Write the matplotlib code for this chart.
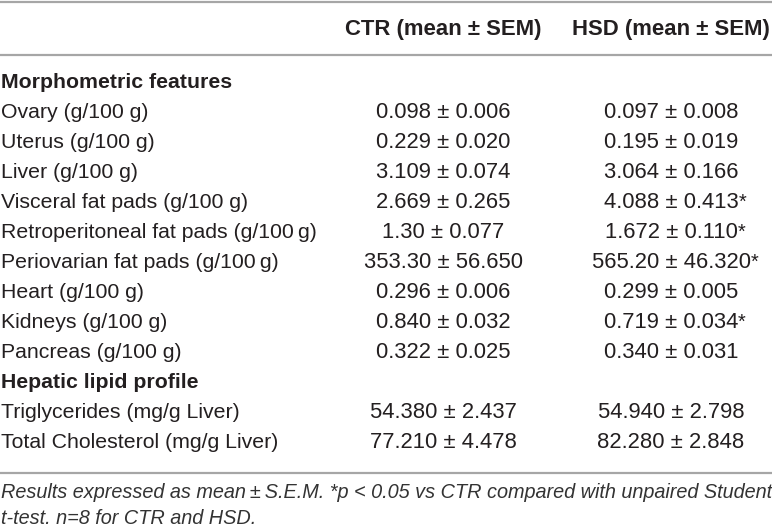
import matplotlib.pyplot as plt

plt.rcParams['font.family'] = ['Liberation Sans', 'DejaVu Sans']

columns = ["CTR (mean ± SEM)", "HSD (mean ± SEM)"]

morpho_title = "Morphometric features"
morpho_labels = ["Ovary (g/100 g)", "Uterus (g/100 g)", "Liver (g/100 g)",
                 "Visceral fat pads (g/100 g)", "Retroperitoneal fat pads (g/100\u2009g)",
                 "Periovarian fat pads (g/100\u2009g)", "Heart (g/100 g)",
                 "Kidneys (g/100 g)", "Pancreas (g/100 g)"]
morpho_ctr = ["0.098 ± 0.006", "0.229 ± 0.020", "3.109 ± 0.074", "2.669 ± 0.265",
              "1.30 ± 0.077", "353.30 ± 56.650", "0.296 ± 0.006", "0.840 ± 0.032",
              "0.322 ± 0.025"]
morpho_hsd = ["0.097 ± 0.008", "0.195 ± 0.019", "3.064 ± 0.166", "4.088 ± 0.413",
              "1.672 ± 0.110", "565.20 ± 46.320", "0.299 ± 0.005", "0.719 ± 0.034",
              "0.340 ± 0.031"]
morpho_sig = [False, False, False, True, True, True, False, True, False]

lipid_title = "Hepatic lipid profile"
lipid_labels = ["Triglycerides (mg/g Liver)", "Total Cholesterol (mg/g Liver)"]
lipid_ctr = ["54.380 ± 2.437", "77.210 ± 4.478"]
lipid_hsd = ["54.940 ± 2.798", "82.280 ± 2.848"]
lipid_sig = [False, False]

footnote = ["Results expressed as mean\u2009±\u2009S.E.M. *p < 0.05 vs CTR compared with unpaired Student",
            "t-test. n=8 for CTR and HSD."]

W, H = 772, 528
fig = plt.figure(figsize=(W / 100, H / 100), dpi=100)
ax = fig.add_axes([0, 0, 1, 1])
ax.set_xlim(0, W)
ax.set_ylim(H, 0)
ax.axis('off')

txt = '#231f20'
line_c = '#a6a6a6'
fs = 15.3
col_x = [443, 671]
row_h = 30

for y in [1.5, 55, 473]:
    ax.plot([0, W], [y, y], color=line_c, lw=1.6, solid_capstyle='butt')

for cx, name in zip(col_x, columns):
    ax.text(cx, 29, name, ha='center', va='center', fontsize=15.9, fontweight='bold', color=txt)


def put_value(x, y, s, star):
    t = ax.text(x, y, s, ha='center', va='center', fontsize=15.8, color=txt)
    if star:
        ax.annotate('*', xy=(1, 1.0), xycoords=t, ha='left', va='top',
                    fontsize=fs - 1, color=txt)


y = 83
sections = [(morpho_title, morpho_labels, morpho_ctr, morpho_hsd, morpho_sig),
            (lipid_title, lipid_labels, lipid_ctr, lipid_hsd, lipid_sig)]
for title, labels, ctr, hsd, sig in sections:
    ax.text(1, y, title, ha='left', va='center', fontsize=fs, fontweight='bold', color=txt)
    y += row_h
    for lab, c, h, s in zip(labels, ctr, hsd, sig):
        ax.text(1, y, lab, ha='left', va='center', fontsize=fs, color=txt)
        put_value(col_x[0], y, c, False)
        put_value(col_x[1], y, h, s)
        y += row_h

for i, line in enumerate(footnote):
    ax.text(1, 493 + i * 25, line, ha='left', va='center', fontsize=14.3,
            style='italic', color='#333333')

fig.savefig('out.png', dpi=100)
